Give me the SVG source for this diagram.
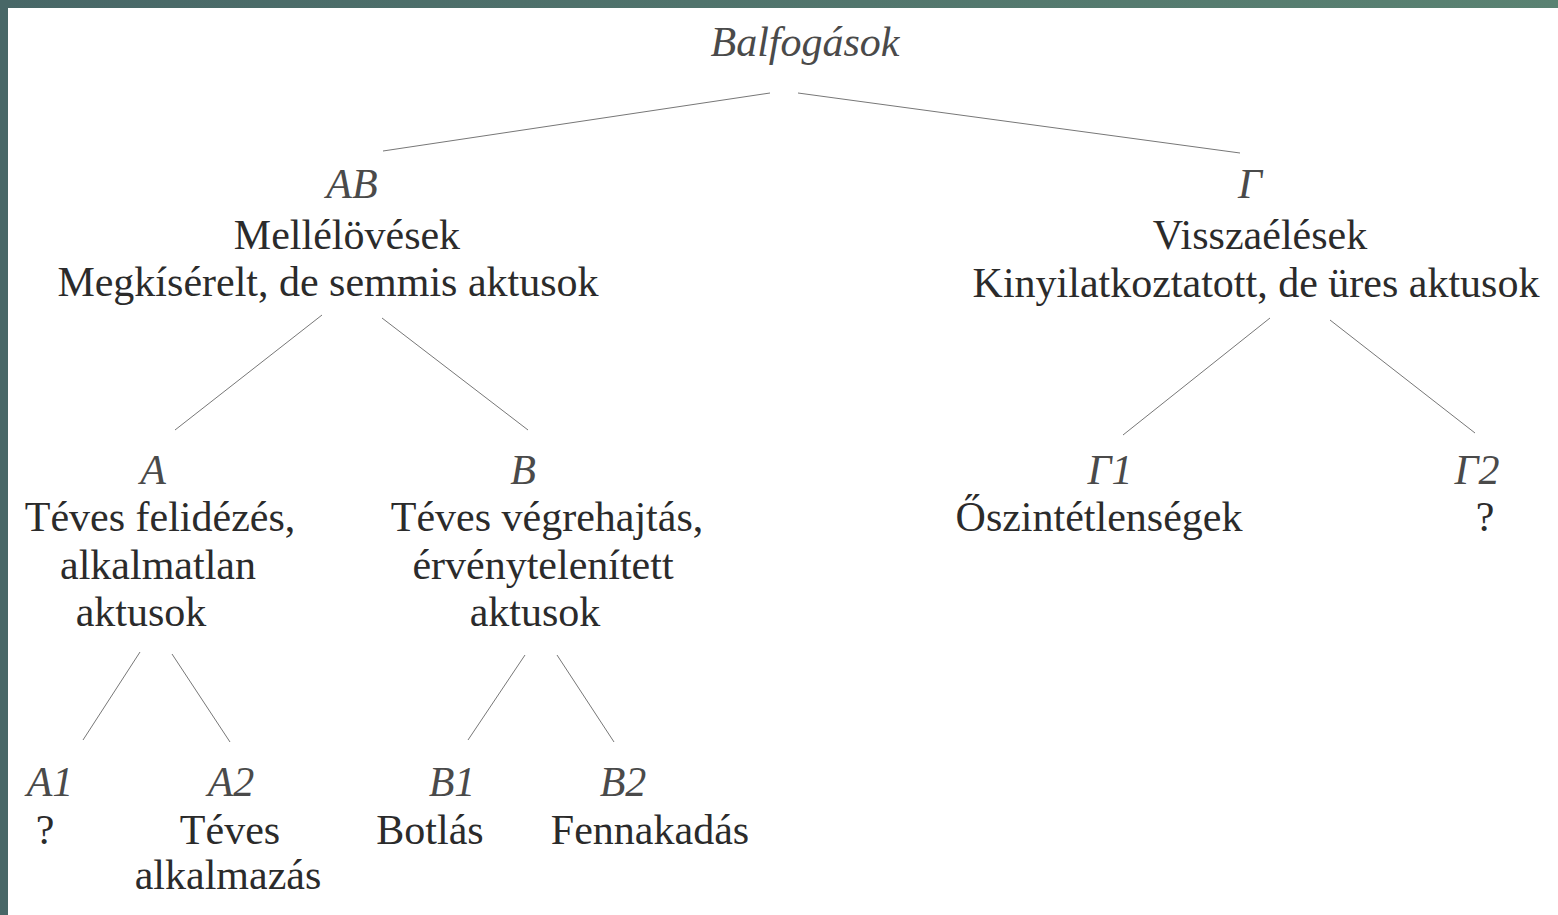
<svg xmlns="http://www.w3.org/2000/svg" width="1558" height="915" viewBox="0 0 1558 915">
<defs>
<linearGradient id="bar" x1="0" y1="0" x2="1" y2="0">
<stop offset="0" stop-color="#486767"/>
<stop offset="1" stop-color="#5a8272"/>
</linearGradient>
<style>
text{font-family:"Liberation Serif","Times New Roman",serif;font-size:42px;fill:#2b2b2b;text-anchor:middle}
.it{font-style:italic;fill:#4a4a4a}
.c line{stroke:#777;stroke-width:1}
</style>
</defs>
<rect width="1558" height="915" fill="#fff"/>
<rect x="0" y="0" width="1558" height="8" fill="url(#bar)"/>
<rect x="0" y="0" width="8" height="915" fill="#486767"/>
<g class="c" id="connectors">
<line x1="770" y1="93" x2="383" y2="151"/>
<line x1="798" y1="93" x2="1240" y2="153"/>
<line x1="322" y1="315" x2="175" y2="430"/>
<line x1="382" y1="318" x2="528" y2="430"/>
<line x1="1270" y1="318" x2="1123" y2="435"/>
<line x1="1330" y1="320" x2="1475" y2="433"/>
<line x1="140" y1="652" x2="83" y2="740"/>
<line x1="172" y1="654" x2="230" y2="742"/>
<line x1="525" y1="655" x2="468" y2="740"/>
<line x1="557" y1="655" x2="614" y2="742"/>
</g>
<g id="root"><text class="it" x="805" y="56">Balfogások</text></g>
<g id="AB">
<text class="it" x="352" y="198">AB</text>
<text x="347" y="249">Mellélövések</text>
<text x="328" y="296">Megkísérelt, de semmis aktusok</text>
</g>
<g id="G">
<text class="it" x="1250" y="198">Γ</text>
<text x="1260" y="249">Visszaélések</text>
<text x="1256" y="297">Kinyilatkoztatott, de üres aktusok</text>
</g>
<g id="A">
<text class="it" x="153" y="484">A</text>
<text x="160" y="531">Téves felidézés,</text>
<text x="158" y="579">alkalmatlan</text>
<text x="141" y="626">aktusok</text>
</g>
<g id="B">
<text class="it" x="523" y="484">B</text>
<text x="547" y="531">Téves végrehajtás,</text>
<text x="543" y="579">érvénytelenített</text>
<text x="535" y="626">aktusok</text>
</g>
<g id="G1">
<text class="it" x="1110" y="484">Γ1</text>
<text x="1099" y="531">Őszintétlenségek</text>
</g>
<g id="G2">
<text class="it" x="1477" y="484">Γ2</text>
<text x="1485" y="531">?</text>
</g>
<g id="A1">
<text class="it" x="50" y="796">A1</text>
<text x="45" y="844">?</text>
</g>
<g id="A2">
<text class="it" x="231" y="796">A2</text>
<text x="230" y="844">Téves</text>
<text x="228" y="889">alkalmazás</text>
</g>
<g id="B1">
<text class="it" x="452" y="796">B1</text>
<text x="430" y="844">Botlás</text>
</g>
<g id="B2">
<text class="it" x="623" y="796">B2</text>
<text x="650" y="844">Fennakadás</text>
</g>
</svg>
